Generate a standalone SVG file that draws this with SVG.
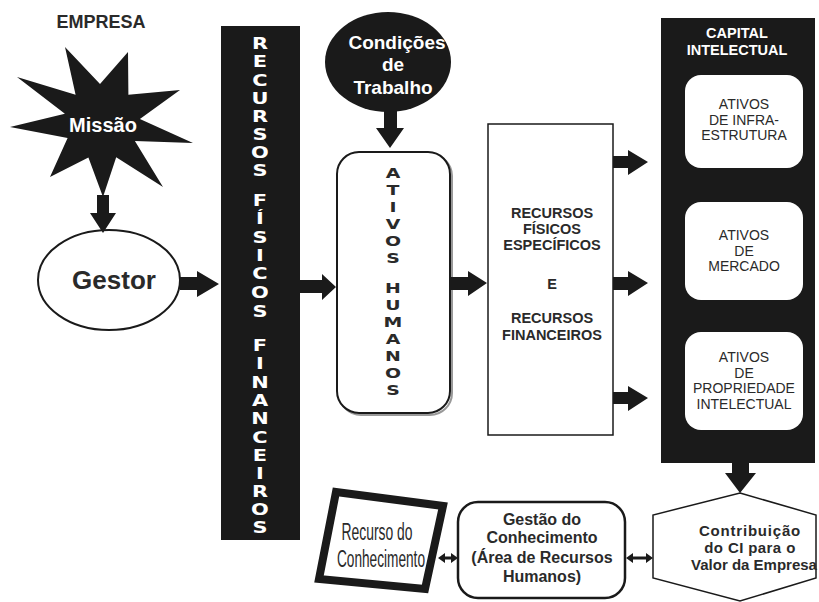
<svg xmlns="http://www.w3.org/2000/svg" width="819" height="602" viewBox="0 0 819 602">
<style>
.blk{fill:#1a1a1a;stroke:none}
.b{font-family:"Liberation Sans",Arial,sans-serif;font-weight:bold}
.r{font-family:"Liberation Sans",Arial,sans-serif}
.w{fill:#fff}
.d{fill:#2a2a2a}
.vt{font-family:"DejaVu Sans","Liberation Sans",sans-serif;font-weight:bold;text-anchor:middle}
text{text-anchor:middle}
</style>
<rect width="819" height="602" fill="#fff"/>

<g id="empresa">
<text class="b d" x="101" y="28" font-size="18">EMPRESA</text>
</g>

<g id="missao">
<polygon class="blk" points="65,47 100,84 128,52 128.4,94.7 180,90 139.9,118.9 193,143 134.9,141 163,187 116.2,157.2 103,197 88.4,157.5 50,177 67.6,138.1 10,127 64.9,113.8 17,77 75.6,94.7"/>
<text class="b w" x="103" y="132" font-size="20">Missão</text>
</g>

<g id="gestor">
<ellipse cx="109" cy="280" rx="71" ry="50" fill="#fff" stroke="#1a1a1a" stroke-width="2"/>
<text class="b d" x="114" y="289" font-size="26">Gestor</text>
</g>

<g id="recursos-bar">
<rect x="221" y="26" width="79" height="514" fill="#1a1a1a"/>
<g transform="translate(260 0) scale(1.35 1)" fill="#fff" font-size="15.5">
<text class="vt" x="0" y="49">R</text>
<text class="vt" x="0" y="67">E</text>
<text class="vt" x="0" y="86">C</text>
<text class="vt" x="0" y="104">U</text>
<text class="vt" x="0" y="122">R</text>
<text class="vt" x="0" y="140">S</text>
<text class="vt" x="0" y="158">O</text>
<text class="vt" x="0" y="176">S</text>
<text class="vt" x="0" y="206">F</text>
<text class="vt" x="0" y="224">Í</text>
<text class="vt" x="0" y="243">S</text>
<text class="vt" x="0" y="261">I</text>
<text class="vt" x="0" y="279">C</text>
<text class="vt" x="0" y="298">O</text>
<text class="vt" x="0" y="317">S</text>
<text class="vt" x="0" y="351">F</text>
<text class="vt" x="0" y="369">I</text>
<text class="vt" x="0" y="388">N</text>
<text class="vt" x="0" y="406">A</text>
<text class="vt" x="0" y="424">N</text>
<text class="vt" x="0" y="443">C</text>
<text class="vt" x="0" y="461">E</text>
<text class="vt" x="0" y="479">I</text>
<text class="vt" x="0" y="497">R</text>
<text class="vt" x="0" y="515">O</text>
<text class="vt" x="0" y="533">S</text>
</g>
</g>

<g id="condicoes">
<ellipse cx="388" cy="62" rx="63" ry="50" fill="#1a1a1a"/>
<text class="b w" x="397" y="49" font-size="19">Condições</text>
<text class="b w" x="393" y="71" font-size="19">de</text>
<text class="b w" x="393" y="94" font-size="19">Trabalho</text>
</g>

<g id="ativos-humanos">
<rect x="339" y="154" width="113" height="261" rx="22" fill="none" stroke="#999" stroke-width="2"/>
<rect x="337" y="152" width="113" height="261" rx="22" fill="#fff" stroke="#1a1a1a" stroke-width="2"/>
<g transform="translate(393 0) scale(1.35 1)" fill="#2a2a2a" font-size="14">
<text class="vt" x="0" y="178">A</text>
<text class="vt" x="0" y="195">T</text>
<text class="vt" x="0" y="212">I</text>
<text class="vt" x="0" y="229">V</text>
<text class="vt" x="0" y="246">O</text>
<text class="vt" x="0" y="263">S</text>
<text class="vt" x="0" y="293">H</text>
<text class="vt" x="0" y="310">U</text>
<text class="vt" x="0" y="327">M</text>
<text class="vt" x="0" y="344">A</text>
<text class="vt" x="0" y="361">N</text>
<text class="vt" x="0" y="378">O</text>
<text class="vt" x="0" y="395">S</text>
</g>
</g>

<g id="recursos-especificos">
<rect x="488" y="124" width="125" height="311" fill="#fff" stroke="#1a1a1a" stroke-width="1.5"/>
<g class="b d" font-size="14.5">
<text x="552" y="218">RECURSOS</text>
<text x="552" y="234">FÍSICOS</text>
<text x="552" y="250">ESPECÍFICOS</text>
<text x="552" y="289">E</text>
<text x="552" y="323">RECURSOS</text>
<text x="552" y="340">FINANCEIROS</text>
</g>
</g>

<g id="capital-intelectual">
<rect x="661" y="18" width="154" height="445" fill="#1a1a1a"/>
<text class="b w" x="737" y="38" font-size="14.5">CAPITAL</text>
<text class="b w" x="737" y="55" font-size="14.5">INTELECTUAL</text>
</g>

<g id="ativos-infra">
<rect x="685" y="75" width="118" height="93" rx="16" fill="#fff"/>
<g class="r d" font-size="14">
<text x="744" y="109">ATIVOS</text>
<text x="744" y="124.5">DE INFRA-</text>
<text x="744" y="140">ESTRUTURA</text>
</g>
</g>

<g id="ativos-mercado">
<rect x="685" y="202" width="118" height="98" rx="16" fill="#fff"/>
<g class="r d" font-size="14">
<text x="744" y="240">ATIVOS</text>
<text x="744" y="255.5">DE</text>
<text x="744" y="271">MERCADO</text>
</g>
</g>

<g id="ativos-propriedade">
<rect x="685" y="332" width="118" height="98" rx="16" fill="#fff"/>
<g class="r d" font-size="14">
<text x="744" y="362">ATIVOS</text>
<text x="744" y="377.5">DE</text>
<text x="744" y="393">PROPRIEDADE</text>
<text x="744" y="408.5">INTELECTUAL</text>
</g>
</g>

<g id="contribuicao">
<polygon points="740,493 816,515 816,578 740,601 653,578 653,515" fill="#fff" stroke="#1a1a1a" stroke-width="1.5"/>
<g class="b d" font-size="15">
<text x="750" y="536" letter-spacing="0.8">Contribuição</text>
<text x="750" y="553" letter-spacing="0.4">do CI para o</text>
<text x="754" y="570">Valor da Empresa</text>
</g>
</g>

<g id="gestao-conhecimento">
<rect x="458" y="502" width="167" height="96" rx="20" fill="#fff" stroke="#1a1a1a" stroke-width="2.5"/>
<g class="b d" font-size="16">
<text x="542" y="525">Gestão do</text>
<text x="542" y="543">Conhecimento</text>
<text x="542" y="563">(Área de Recursos</text>
<text x="542" y="582">Humanos)</text>
</g>
</g>

<g id="recurso-conhecimento">
<polygon points="336,492 443,506 425,589 319,579" fill="#fff" stroke="#1a1a1a" stroke-width="8" stroke-linejoin="miter"/>
<text class="r d" x="377" y="540" font-size="23" textLength="71" lengthAdjust="spacingAndGlyphs">Recurso do</text>
<text class="r d" x="381" y="567" font-size="23" textLength="88" lengthAdjust="spacingAndGlyphs">Conhecimento</text>
</g>

<g id="connectors">
<polygon class="blk" points="97,195 109,195 109,213 116,213 103,233 90,213 97,213"/>
<polygon class="blk" points="180,277 197,277 197,271 219,284 197,297 197,290 180,290"/>
<polygon class="blk" points="384,111 397,111 397,128 404,128 390,148 376,128 384,128"/>
<polygon class="blk" points="300,280 322,280 322,274 336,287 322,300 322,293 300,293"/>
<polygon class="blk" points="450,277 468,277 468,271 487,283 468,296 468,290 450,290"/>
<polygon class="blk" points="613,156 628,156 628,150 648,162 628,175 628,168 613,168"/>
<polygon class="blk" points="613,277 628,277 628,271 648,283 628,296 628,290 613,290"/>
<polygon class="blk" points="613,392 628,392 628,386 648,398 628,411 628,404 613,404"/>
<polygon class="blk" points="732,462 749,462 749,473 756,473 740,493 725,473 732,473"/>
<polygon class="blk" points="438,558 445,553 445,556.5 451,556.5 451,553 458,558 451,563 451,559.5 445,559.5 445,563"/>
<polygon class="blk" points="626,558 633,553 633,556.5 646,556.5 646,553 653,558 646,563 646,559.5 633,559.5 633,563"/>
</g>
</svg>
